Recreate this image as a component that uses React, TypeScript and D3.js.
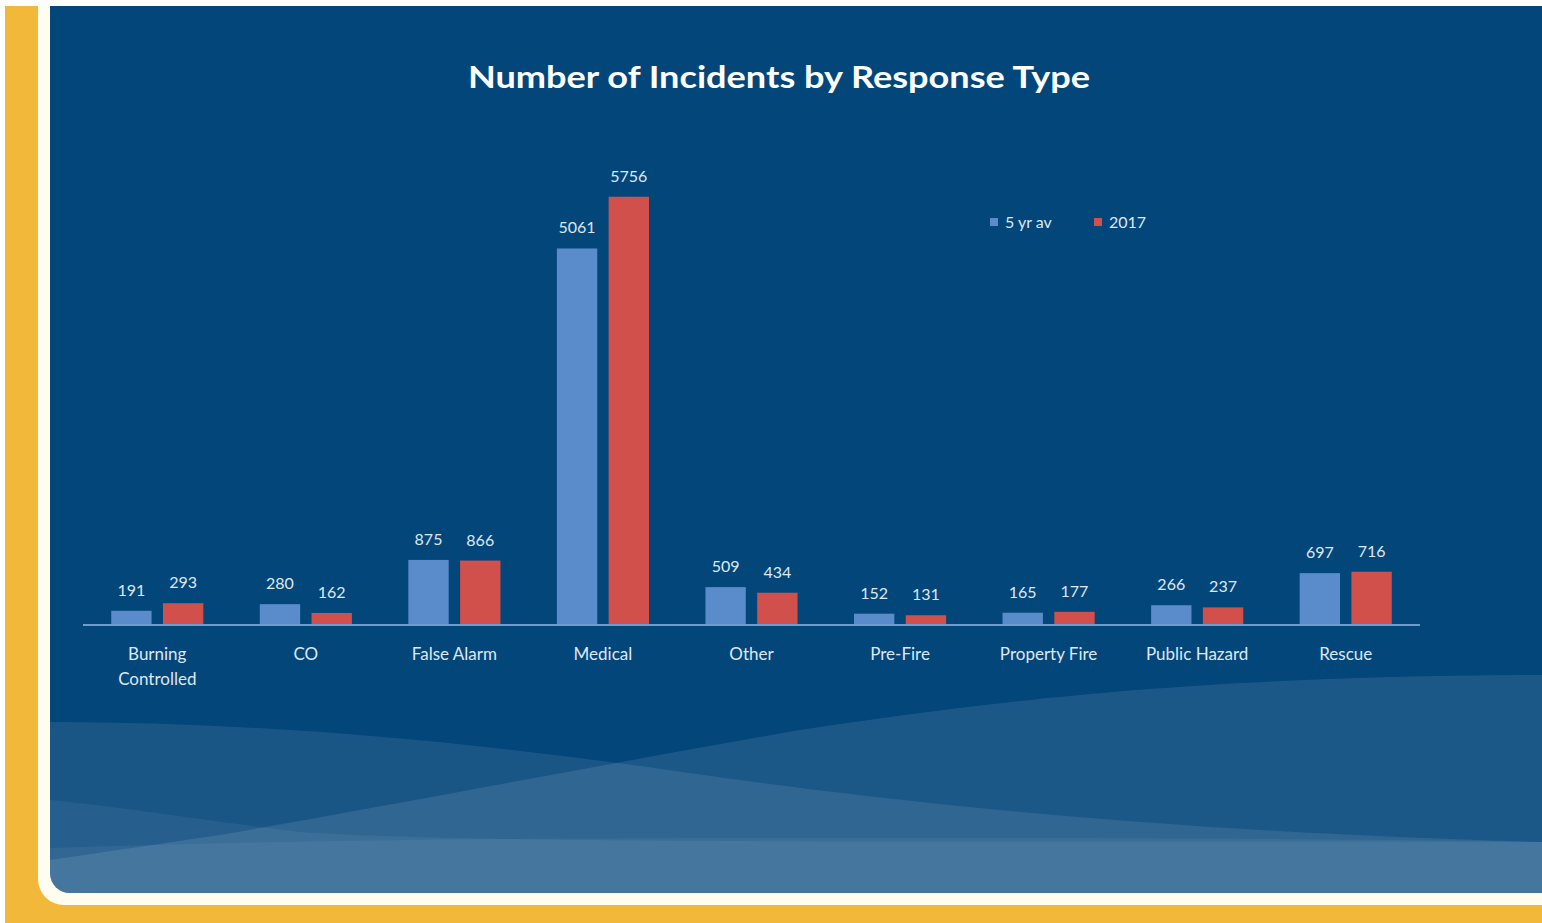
import React from "react";
import * as d3 from "d3";

const categories = ["Burning Controlled", "CO", "False Alarm", "Medical", "Other", "Pre-Fire", "Property Fire", "Public Hazard", "Rescue"];
const series = ["5 yr av", "2017"];
const fiveYearAvg = [191, 280, 875, 5061, 509, 152, 165, 266, 697];
const y2017 = [293, 162, 866, 5756, 434, 131, 177, 237, 716];
const seriesColors = ["#5a8bcb", "#d2504b"];

const W = 1542;
const H = 923;
const FONT = "Lato, 'Open Sans', sans-serif";

export default function App() {
  const x0 = d3.scaleBand<string>().domain(categories).range([83, 1420]).paddingInner(0.38).paddingOuter(0.19);
  const x1 = d3.scaleBand<string>().domain(series).range([0, x0.bandwidth()]).paddingInner(0.22);
  const y = d3.scaleLinear().domain([0, 6000]).range([625, 178.6]);
  const values = [fiveYearAvg, y2017];

  const panelClip = "panelClip";
  return (
    <svg width={W} height={H} style={{ position: "absolute", left: 0, top: 0, display: "block" }}>
      <defs>
        <clipPath id={panelClip}>
          <rect x={50} y={-40} width={1540} height={933} rx={20} />
        </clipPath>
      </defs>
      <rect x={0} y={0} width={W} height={H} fill="#ffffff" />
      <rect x={5} y={6} width={W} height={H} fill="#f2b83a" />
      <rect x={38} y={-40} width={1560} height={945} rx={26} fill="#fffdf0" />
      <g clipPath={`url(#${panelClip})`}>
        <rect x={50} y={-40} width={1540} height={940} fill="#03467a" />
        {/* waves */}
        <path d="M50,722 C250,722 450,740 640,766 C820,792 1100,830 1542,842 L1542,900 L50,900 Z" fill="#ffffff" opacity={0.09} />
        <path d="M220,835 C420,800 600,765 800,730 C1000,700 1200,676 1542,675 L1542,900 L50,900 L50,860 Z" fill="#ffffff" opacity={0.1} />
        <path d="M50,800 C130,808 200,820 300,832 C500,845 900,840 1542,842 L1542,900 L50,900 Z" fill="#ffffff" opacity={0.06} />
        <path d="M50,848 C300,840 500,838 800,838 C1100,838 1300,838 1542,842 L1542,900 L50,900 Z" fill="#ffffff" opacity={0.05} />
      </g>
      <rect x={0} y={0} width={W} height={6} fill="#ffffff" />

      <text x={779} y={88} textAnchor="middle" fill="#ffffff" fontFamily={FONT} fontWeight={700} fontSize={30} textLength={622} lengthAdjust="spacingAndGlyphs">
        Number of Incidents by Response Type
      </text>

      {/* legend */}
      {series.map((s, i) => {
        const lx = i === 0 ? 990 : 1094;
        return (
          <g key={s}>
            <rect x={lx} y={218} width={8} height={8} fill={seriesColors[i]} />
            <text x={lx + 15} y={228} fill="#dfe8f2" fontFamily={FONT} fontSize={16}>{s}</text>
          </g>
        );
      })}

      {/* bars */}
      {categories.map((c, ci) => (
        <g key={c} transform={`translate(${x0(c)},0)`}>
          {series.map((s, si) => {
            const v = values[si][ci];
            const bx = x1(s)!;
            return (
              <g key={s}>
                <rect x={bx} y={y(v)} width={x1.bandwidth()} height={y(0) - y(v)} fill={seriesColors[si]} />
                <text x={bx + x1.bandwidth() / 2} y={y(v) - 15} textAnchor="middle" fill="#dfe8f2" fontFamily={FONT} fontSize={16}>{v}</text>
              </g>
            );
          })}
        </g>
      ))}

      <line x1={83} x2={1420} y1={625} y2={625} stroke="#6e9ccc" strokeWidth={2} />

      {categories.map((c) => {
        const cx = x0(c)! + x0.bandwidth() / 2;
        const lines = c === "Burning Controlled" ? ["Burning", "Controlled"] : [c];
        return (
          <text key={c} x={cx} y={660} textAnchor="middle" fill="#dfe8f2" fontFamily={FONT} fontSize={17}>
            {lines.map((l, i) => (
              <tspan key={l} x={cx} dy={i === 0 ? 0 : 25}>{l}</tspan>
            ))}
          </text>
        );
      })}
    </svg>
  );
}
